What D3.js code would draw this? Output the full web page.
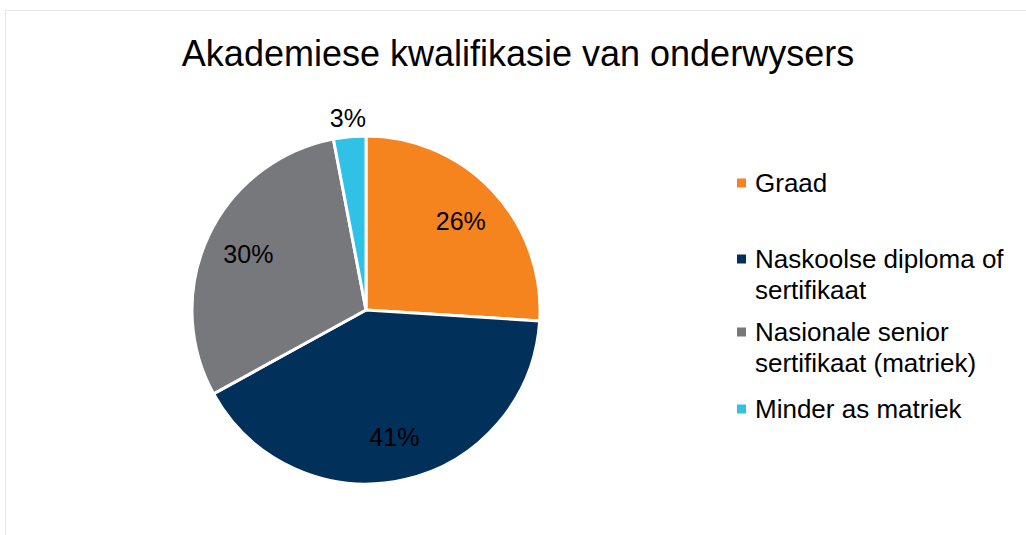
<!DOCTYPE html>
<html>
<head>
<meta charset="utf-8">
<script src="https://cdn.jsdelivr.net/npm/d3@7"></script>
<style>
  body { margin: 0; background: #fff; }
  text { font-family: "Liberation Sans", Arial, sans-serif; fill: #000; }
</style>
</head>
<body>
<div id="chart"></div>
<script>
// chart data
const categories = ["Graad", "Naskoolse diploma of sertifikaat", "Nasionale senior sertifikaat (matriek)", "Minder as matriek"];
const legendLines = [["Graad"], ["Naskoolse diploma of", "sertifikaat"], ["Nasionale senior", "sertifikaat (matriek)"], ["Minder as matriek"]];
const values = [26, 41, 30, 3];
const colors = ["#F5841F", "#01305A", "#77787B", "#2FC1E6"];

let width = 1026, height = 535;
let cx = 366, cy = 310, radius = 174;

let svg = d3.select("#chart")
	.append("svg")
		.attr("width", width)
		.attr("height", height);

// chart area frame
svg.append("rect")
	.attr("x", 5.5).attr("y", 10.5)
	.attr("width", 1040).attr("height", 560)
	.attr("fill", "#fff")
	.attr("stroke", "#e8e8e8");

svg.append("text")
	.attr("x", 518).attr("y", 66)
	.attr("text-anchor", "middle")
	.style("font-size", "36px")
	.text("Akademiese kwalifikasie van onderwysers");

let color = d3.scaleOrdinal().domain(categories).range(colors);

let pie = d3.pie().sort(null).value(d => d.value);
let data_ready = pie(categories.map((c, i) => ({ name: c, value: values[i] })));

let arc = d3.arc().innerRadius(0).outerRadius(radius);
let g = svg.append("g").attr("transform", "translate(" + cx + "," + cy + ")");

g.selectAll("path")
	.data(data_ready)
	.enter()
	.append("path")
	.attr("d", arc)
	.attr("fill", d => color(d.data.name))
	.attr("stroke", "#fff")
	.style("stroke-width", "3px");

let inner = d3.arc().innerRadius(130).outerRadius(130);
let outer = d3.arc().innerRadius(193).outerRadius(193);

g.selectAll(".lbl")
	.data(data_ready)
	.enter()
	.append("text")
	.attr("class", "lbl")
	.attr("transform", d => "translate(" + (d.data.value < 5 ? outer : inner).centroid(d) + ")")
	.attr("text-anchor", "middle")
	.attr("dy", "0.35em")
	.style("font-size", "25px")
	.text(d => d.data.value + "%");

// legend
let legendY = [183, 259, 332, 409];
let lg = svg.append("g");
legendLines.forEach((lines, i) => {
	lg.append("rect")
		.attr("x", 737).attr("y", legendY[i] - 4.5)
		.attr("width", 9).attr("height", 9)
		.attr("fill", colors[i]);
	lines.forEach((t, j) => {
		lg.append("text")
			.attr("x", 755).attr("y", legendY[i] + j * 31)
			.attr("dy", "0.35em")
			.style("font-size", "26px")
			.text(t);
	});
});
</script>
</body>
</html>
